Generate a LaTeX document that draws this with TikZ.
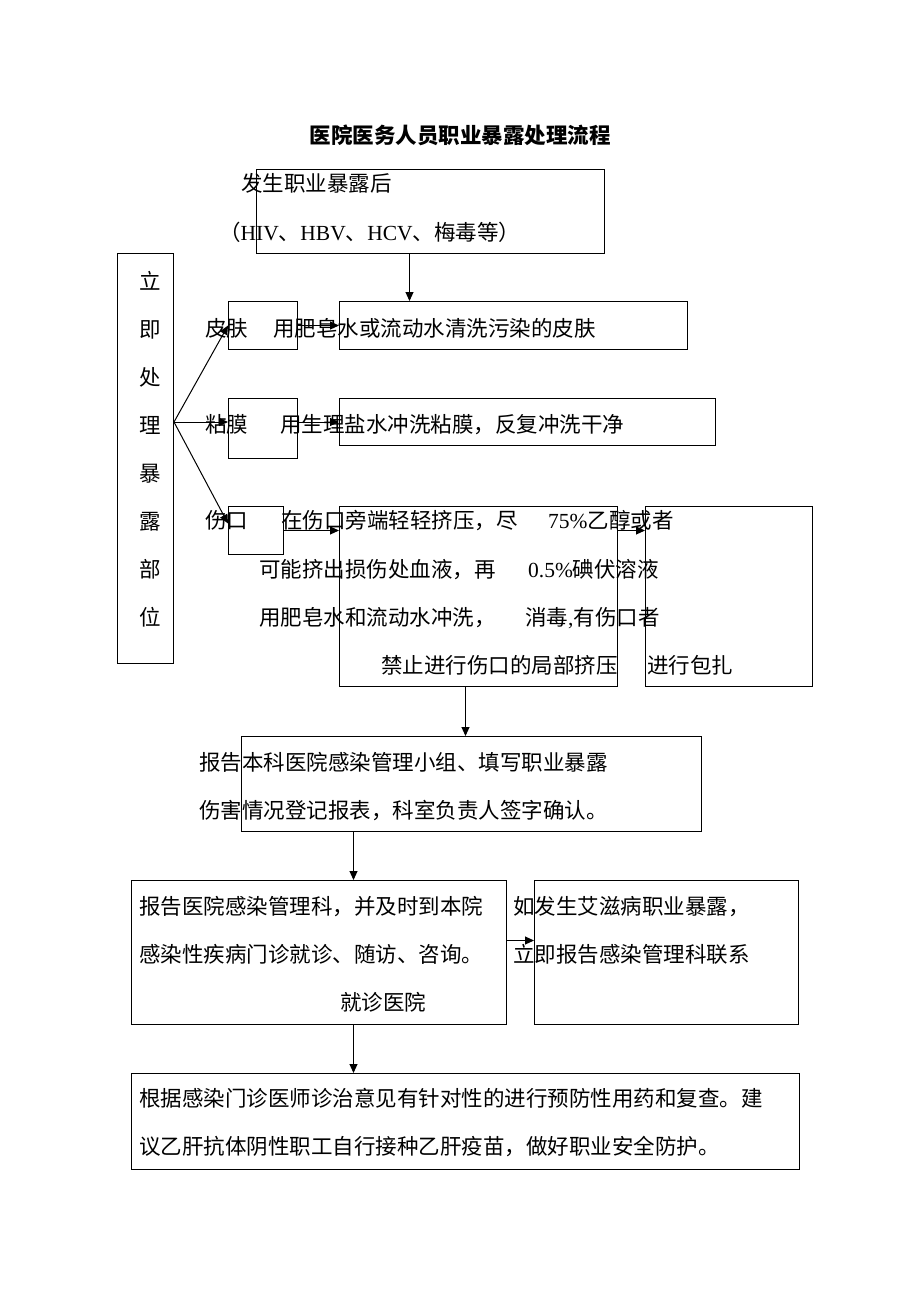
\documentclass[tikz,border=0pt]{standalone}
\usepackage{fontspec}
\setmainfont{Liberation Serif}
\newfontfamily\cjk{Noto Sans CJK SC}
\usetikzlibrary{arrows.meta,calc}
\begin{document}
\begin{tikzpicture}[x=1pt,y=-1pt,
  box/.style={draw,line width=1pt,inner sep=0pt,anchor=north west},
  txt/.style={anchor=base west,inner sep=0pt,font=\fontsize{21.5pt}{26pt}\cjk},
  ctxt/.style={anchor=base,inner sep=0pt,font=\fontsize{21.5pt}{26pt}\cjk},
  arr/.style={line width=1pt,-{Triangle[length=9pt,width=8pt]}},
  ln/.style={line width=1pt}]
\useasboundingbox (0,0) rectangle (920,1302);
\fill[white] (0,0) rectangle (920,1302);

% title
\node[ctxt,font=\fontsize{21.5pt}{26pt}\cjk\bfseries] (title) at (460,143) {医院医务人员职业暴露处理流程};

% boxes
\node[box,minimum width=348pt,minimum height=84pt] (top) at (256,169) {};
\node[box,minimum width=56pt,minimum height=410pt] (left) at (117,253) {};
\node[box,minimum width=69pt,minimum height=48pt] (skinS) at (228,301) {};
\node[box,minimum width=348pt,minimum height=48pt] (skinB) at (339,301) {};
\node[box,minimum width=69pt,minimum height=60pt] (mucS) at (228,398) {};
\node[box,minimum width=376pt,minimum height=47pt] (mucB) at (339,398) {};
\node[box,minimum width=55pt,minimum height=48pt] (woundS) at (228,506) {};
\node[box,minimum width=278pt,minimum height=180pt] (woundB) at (339,506) {};
\node[box,minimum width=167pt,minimum height=180pt] (woundR) at (645,506) {};
\node[box,minimum width=460pt,minimum height=95pt] (report) at (241,736) {};
\node[box,minimum width=375pt,minimum height=144pt] (hosp) at (131,880) {};
\node[box,minimum width=264pt,minimum height=144pt] (aids) at (534,880) {};
\node[box,minimum width=668pt,minimum height=96pt] (final) at (131,1073) {};

% texts
\node[txt] (t1) at (241,191) {发生职业暴露后};
\node[txt] (t2) at (219,240) {（{\rmfamily HIV}、{\rmfamily HBV}、{\rmfamily HCV}、梅毒等）};

\foreach \c [count=\i from 0] in {立,即,处,理,暴,露,部,位}
  \node[ctxt] (v\i) at (150,289+48*\i) {\c};

\node[txt] (skinL) at (205,336) {皮肤};
\node[txt] (skinT) at (273,336) {用肥皂水或流动水清洗污染的皮肤};
\node[txt] (mucL) at (205,432) {粘膜};
\node[txt] (mucT) at (280,432) {用生理盐水冲洗粘膜，反复冲洗干净};
\node[txt] (wL) at (205,528) {伤口};
\node[txt] (w1) at (281,528) {在伤口旁端轻轻挤压，尽};
\node[txt] (w2) at (259,577) {可能挤出损伤处血液，再};
\node[txt] (w3) at (259,625) {用肥皂水和流动水冲洗，};
\node[txt] (w4) at (381,673) {禁止进行伤口的局部挤压};
\node[txt] (r1) at (548,528) {{\rmfamily 75\%}乙醇或者};
\node[txt] (r2) at (528,577) {{\rmfamily 0.5\%}碘伏溶液};
\node[txt] (r3) at (525,625) {消毒{\rmfamily ,}有伤口者};
\node[txt] (r4) at (647,673) {进行包扎};

\node[txt] (rep1) at (199,770) {报告本科医院感染管理小组、填写职业暴露};
\node[txt] (rep2) at (199,818) {伤害情况登记报表，科室负责人签字确认。};

\node[txt] (h1) at (139,914) {报告医院感染管理科，并及时到本院};
\node[txt] (h2) at (139,962) {感染性疾病门诊就诊、随访、咨询。};
\node[txt] (h3) at (340,1010) {就诊医院};

\node[txt] (a1) at (513,914) {如发生艾滋病职业暴露，};
\node[txt] (a2) at (513,962) {立即报告感染管理科联系};

\node[txt] (f1) at (139,1106) {根据感染门诊医师诊治意见有针对性的进行预防性用药和复查。建};
\node[txt] (f2) at (139,1154) {议乙肝抗体阴性职工自行接种乙肝疫苗，做好职业安全防护。};

% connectors
\draw[arr] ([xshift=-21pt]top.south) -- ([xshift=-21pt]top.south |- skinB.north);
\coordinate (fan) at (left.east |- mucB.west);
\draw[arr] (fan) -- (skinS.west);
\draw[arr] (fan) -- (mucS.west |- mucB.west);
\draw[arr] (fan) -- ([yshift=7pt]woundS.west);
\draw[arr] (skinS.east) -- (skinB.west);
\draw[arr] (mucS.east |- mucB.west) -- (mucB.west);
\draw[arr] (woundS.east) -- (woundS.east -| woundB.west);
\draw[arr] (woundB.east |- woundS.east) -- (woundR.west |- woundS.east);
\draw[arr] ([xshift=-13pt]woundB.south) -- ([xshift=-13pt]woundB.south |- report.north);
\draw[arr] ([xshift=-118pt]report.south) -- ([xshift=-118pt]report.south |- hosp.north);
\draw[arr] ([yshift=12pt]hosp.east) -- ([yshift=12pt]hosp.east -| aids.west);
\draw[arr] ([xshift=34.5pt]hosp.south) -- ([xshift=34.5pt]hosp.south |- final.north);
\end{tikzpicture}
\end{document}
